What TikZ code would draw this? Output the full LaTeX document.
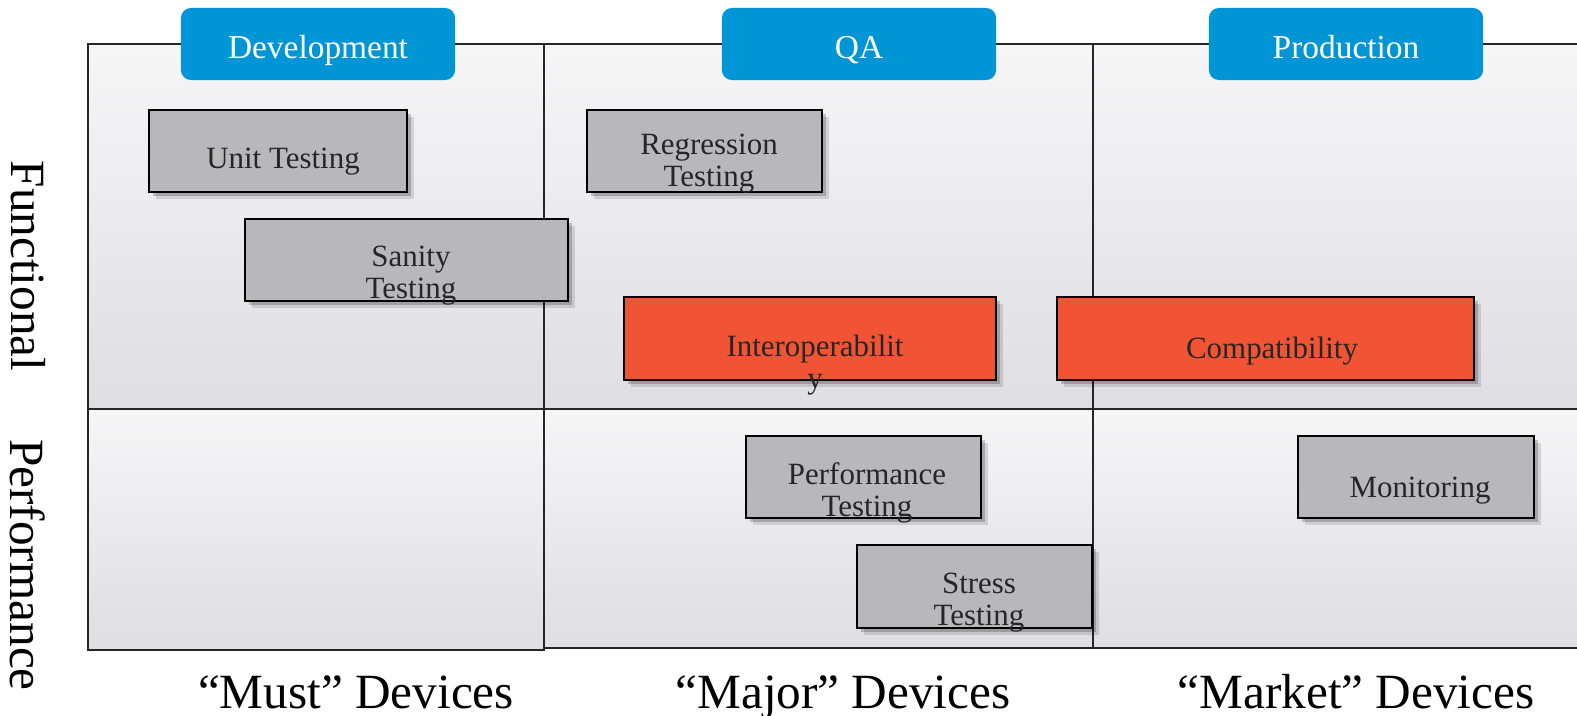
\documentclass[tikz,border=0pt]{standalone}
\usepackage{xcolor}
\usepackage{fontspec}
\setmainfont{Liberation Serif}
\usetikzlibrary{shadows}
\definecolor{hdrblue}{RGB}{0,150,214}
\definecolor{boxgray}{RGB}{184,184,186}
\definecolor{boxorange}{RGB}{240,84,52}
\definecolor{celltop}{RGB}{246,246,247}
\definecolor{cellbot}{RGB}{222,222,227}
\begin{document}
\begin{tikzpicture}[x=0.01cm,y=-0.01cm,
  cell/.style={draw=black!85,line width=0.6pt,top color=celltop,bottom color=cellbot},
  hdr/.style={fill=hdrblue,rounded corners=0.1cm,minimum width=2.74cm,minimum height=0.72cm,
    text=white,text height=0.9em,text depth=0.06em,font=\fontsize{9.5}{11}\selectfont},
  gbox/.style={draw=black,line width=0.6pt,fill=boxgray,inner sep=0pt,
    drop shadow={shadow xshift=0.07cm,shadow yshift=-0.07cm,fill=black,opacity=0.12},
    drop shadow={shadow xshift=0.04cm,shadow yshift=-0.04cm,fill=black,opacity=0.2}},
  obox/.style={gbox,fill=boxorange},
  btxt/.style={align=center,inner sep=0pt,text=black!85,font=\fontsize{8.8}{9.1}\selectfont},
  axlbl/.style={inner sep=0pt,font=\fontsize{14}{16}\selectfont}]
\useasboundingbox (0,0) rectangle (1577,715);
% grid cells
\draw[cell] (88,44) rectangle (544,409);
\draw[cell] (544,44) rectangle (1093,409);
\draw[cell] (1093,44) rectangle (1600,409);
\draw[cell] (88,409) rectangle (544,650);
\draw[cell] (544,409) rectangle (1093,648);
\draw[cell] (1093,409) rectangle (1600,648);
% stage headers
\node[hdr] (dev) at (318,44) {Development};
\node[hdr] (qa) at (859,44) {QA};
\node[hdr] (prod) at (1346,44) {Production};
% test boxes
\node[gbox,minimum width=2.58cm,minimum height=0.82cm] (unit) at (278,151) {};
\node[btxt] at (283,162) {Unit Testing};
\node[gbox,minimum width=3.23cm,minimum height=0.82cm] (sanity) at (406.5,260) {};
\node[btxt] at (411,276) {Sanity\\Testing};
\node[gbox,minimum width=2.35cm,minimum height=0.82cm] (regr) at (704.5,151) {};
\node[btxt] at (709,164) {Regression\\Testing};
\node[obox,minimum width=3.72cm,minimum height=0.83cm] (interop) at (810,338.5) {};
\node[btxt] at (815,365) {Interoperabilit\\y};
\node[obox,minimum width=4.17cm,minimum height=0.83cm] (compat) at (1265.5,338.5) {};
\node[btxt] at (1272,351) {Compatibility};
\node[gbox,minimum width=2.35cm,minimum height=0.82cm] (perf) at (863.5,477) {};
\node[btxt] at (867,493) {Performance\\Testing};
\node[gbox,minimum width=2.35cm,minimum height=0.83cm] (stress) at (974.5,586.5) {};
\node[btxt] at (979,603) {Stress\\Testing};
\node[gbox,minimum width=2.36cm,minimum height=0.82cm] (monit) at (1416,477) {};
\node[btxt] at (1420,491) {Monitoring};
% axis labels
\node[axlbl,rotate=-90] (func) at (28,266) {Functional};
\node[axlbl,rotate=-90] (perfl) at (28,565) {Performance};
\node[axlbl,anchor=base] (must) at (356,708) {“Must” Devices};
\node[axlbl,anchor=base] (major) at (843,708) {“Major” Devices};
\node[axlbl,anchor=base] (market) at (1356,708) {“Market” Devices};
\end{tikzpicture}
\end{document}
